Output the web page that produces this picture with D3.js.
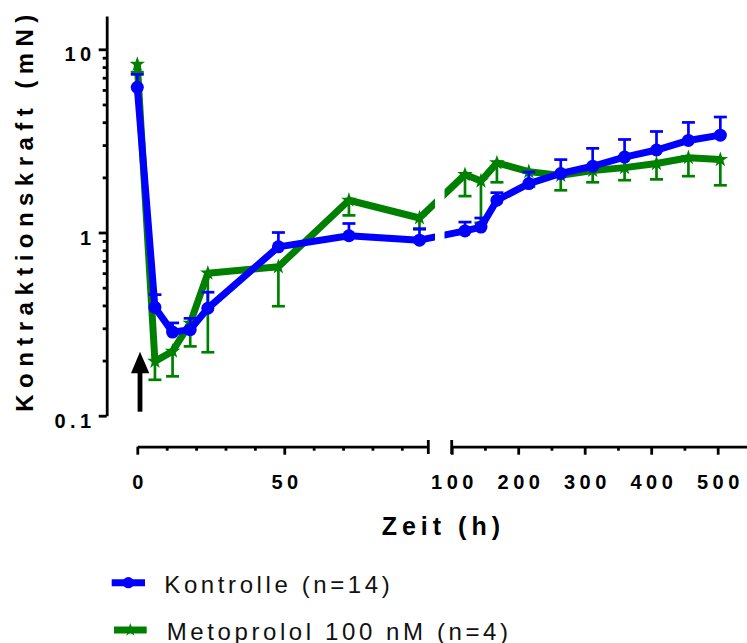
<!DOCTYPE html>
<html>
<head>
<meta charset="utf-8">
<script src="https://cdn.jsdelivr.net/npm/d3@7"></script>
<style>
  html, body { margin: 0; padding: 0; background: #fff; }
  svg { display: block; }
  text { font-family: "Liberation Sans", Arial, sans-serif; }
</style>
</head>
<body>
<svg id="chart" width="747" height="643"></svg>
<script>
// ---------- data ----------
const times = [0, 6, 12, 18, 24, 48, 72, 96, 120, 144, 168, 216, 264, 312, 360, 408, 456, 504];
const kontrolle = [6.2, 0.39, 0.286, 0.295, 0.386, 0.835, 0.96, 0.908, 1.02, 1.07, 1.5, 1.85, 2.1, 2.3, 2.58, 2.82, 3.18, 3.4];
const kontrolleErrTop = [7.3, 0.458, 0.321, 0.34, 0.472, 1.0, 1.12, 1.05, 1.14, 1.2, 1.65, 2.14, 2.5, 2.88, 3.22, 3.56, 3.99, 4.27];
const metoprolol = [8.28, 0.198, 0.225, 0.32, 0.60, 0.65, 1.5, 1.2, 2.07, 1.91, 2.40, 2.15, 2.05, 2.18, 2.26, 2.38, 2.56, 2.5];
const metoprololErrBottom = [7.5, 0.157, 0.164, 0.239, 0.222, 0.396, 1.24, 1.04, 1.58, 1.13, 1.88, 1.78, 1.70, 1.88, 1.93, 1.95, 2.03, 1.81];

const yTicks = [0.1, 1, 10];
const yMinorTicks = [0.2, 0.3, 0.4, 0.5, 0.6, 0.7, 0.8, 0.9, 2, 3, 4, 5, 6, 7, 8, 9];
const xTicks1 = [0, 50];
const xMinor1 = [10, 20, 30, 40, 60, 70, 80, 90];
const xTicks2 = [100, 200, 300, 400, 500];
const xMinor2 = [150, 250, 350, 450];

const seriesNames = ["Kontrolle (n=14)", "Metoprolol 100 nM (n=4)"];
const yLabel = "Kontraktionskraft (mN)";
const xLabel = "Zeit (h)";

// ---------- layout ----------
const svg = d3.select("#chart");
const BLUE = "#0000ff", GREEN = "#008000";
const axisX = 106.7, axisY = 446.7;

const y = d3.scaleLog().domain([0.1, 15.2]).range([415.7, 16]);
const x1 = d3.scaleLinear().domain([0, 99]).range([137.3, 428.3]);
const x2 = d3.scaleLinear().domain([100, 545]).range([451.7, 747.6]);
const xPos = t => (t < 100 ? x1(t) : x2(t));

// ---------- axes ----------
const tickFont = g => g.selectAll("text")
  .attr("font-family", "Liberation Sans, Arial, sans-serif")
  .attr("font-size", 20).attr("font-weight", "bold")
  .attr("fill", "#000").style("letter-spacing", "4.5px");

const styleAxis = g => {
  g.selectAll("path.domain").attr("stroke", "#000").attr("stroke-width", 2.8);
  g.selectAll(".tick line").attr("stroke", "#000").attr("stroke-width", 2.8);
};

// Y axis
const yAxisG = svg.append("g").attr("transform", `translate(${axisX},0)`)
  .call(d3.axisLeft(y).tickValues(yTicks)
    .tickFormat(d => (d < 1 ? "0.1" : String(d)))
    .tickSize(8).tickSizeOuter(0).tickPadding(3));
styleAxis(yAxisG); tickFont(yAxisG);
yAxisG.selectAll("text").attr("dy", 11.5).attr("dx", 0);
svg.append("g").attr("transform", `translate(${axisX},0)`)
  .call(d3.axisLeft(y).tickValues(yMinorTicks).tickFormat("").tickSize(4).tickSizeOuter(0))
  .call(g => g.select(".domain").remove())
  .call(styleAxis);

// X axis seg 1
const xa1 = svg.append("g").attr("transform", `translate(0,${axisY})`)
  .call(d3.axisBottom(x1).tickValues(xTicks1).tickSize(8).tickSizeOuter(0).tickPadding(20.5));
styleAxis(xa1); tickFont(xa1);
xa1.selectAll("text").attr("dx", 2.25);
svg.append("g").attr("transform", `translate(0,${axisY})`)
  .call(d3.axisBottom(x1).tickValues(xMinor1).tickFormat("").tickSize(4).tickSizeOuter(0))
  .call(g => g.select(".domain").remove()).call(styleAxis);

// X axis seg 2
const xa2 = svg.append("g").attr("transform", `translate(0,${axisY})`)
  .call(d3.axisBottom(x2).tickValues(xTicks2).tickSize(8).tickSizeOuter(0).tickPadding(20.5));
styleAxis(xa2); tickFont(xa2);
xa2.selectAll("text").attr("dx", 2.25);
svg.append("g").attr("transform", `translate(0,${axisY})`)
  .call(d3.axisBottom(x2).tickValues(xMinor2).tickFormat("").tickSize(4).tickSizeOuter(0))
  .call(g => g.select(".domain").remove()).call(styleAxis);

// break marks
[x1.range()[1], x2.range()[0]].forEach(bx => {
  svg.append("line").attr("x1", bx).attr("x2", bx)
    .attr("y1", axisY - 6.7).attr("y2", axisY + 7.3)
    .attr("stroke", "#000").attr("stroke-width", 2.8);
});

// axis titles
svg.append("text")
  .attr("transform", "translate(33.3,411.7) rotate(-90)")
  .attr("text-anchor", "start")
  .attr("font-size", 24).attr("font-weight", "bold")
  .attr("textLength", 397).attr("lengthAdjust", "spacing")
  .text(yLabel);

svg.append("text")
  .attr("x", 381.7).attr("y", 535)
  .attr("font-size", 25).attr("font-weight", "bold")
  .attr("textLength", 118.3).attr("lengthAdjust", "spacing")
  .text(xLabel);

// ---------- data marks ----------
const defs = svg.append("defs");
const clip = defs.append("clipPath").attr("id", "gapclip");
clip.append("rect").attr("x", 0).attr("y", 0).attr("width", 435).attr("height", 643);
clip.append("rect").attr("x", 444.5).attr("y", 0).attr("width", 310).attr("height", 643);

const line = d3.line().x(d => xPos(d.t)).y(d => y(d.v));
const kData = times.map((t, i) => ({ t, v: kontrolle[i], e: kontrolleErrTop[i] }));
const mData = times.map((t, i) => ({ t, v: metoprolol[i], e: metoprololErrBottom[i] }));

const capW = 13, errW = 2.7;
function drawErr(g, data, color) {
  const eg = g.append("g");
  eg.selectAll("line.stem").data(data).join("line").attr("class", "stem")
    .attr("x1", d => xPos(d.t)).attr("x2", d => xPos(d.t))
    .attr("y1", d => y(d.v)).attr("y2", d => y(d.e))
    .attr("stroke", color).attr("stroke-width", errW);
  eg.selectAll("line.cap").data(data).join("line").attr("class", "cap")
    .attr("x1", d => xPos(d.t) - capW / 2).attr("x2", d => xPos(d.t) + capW / 2)
    .attr("y1", d => y(d.e)).attr("y2", d => y(d.e))
    .attr("stroke", color).attr("stroke-width", errW);
}

// Metoprolol (green) below
const gm = svg.append("g");
drawErr(gm, mData, GREEN);
gm.append("path").datum(mData).attr("d", line)
  .attr("fill", "none").attr("stroke", GREEN).attr("stroke-width", 7)
  .attr("stroke-linejoin", "round").attr("clip-path", "url(#gapclip)");
const star = d3.symbol().type(d3.symbolStar).size(75);
gm.selectAll("path.star").data(mData).join("path").attr("class", "star")
  .attr("d", star)
  .attr("transform", d => `translate(${xPos(d.t)},${y(d.v)})`)
  .attr("fill", GREEN);

// Kontrolle (blue) on top
const gk = svg.append("g");
drawErr(gk, kData, BLUE);
gk.append("path").datum(kData).attr("d", line)
  .attr("fill", "none").attr("stroke", BLUE).attr("stroke-width", 7)
  .attr("stroke-linejoin", "round").attr("clip-path", "url(#gapclip)");
gk.selectAll("circle").data(kData).join("circle")
  .attr("cx", d => xPos(d.t)).attr("cy", d => y(d.v)).attr("r", 6.5)
  .attr("fill", BLUE);

// arrow annotation
svg.append("rect").attr("x", 137.6).attr("y", 372).attr("width", 4.8).attr("height", 39.7).attr("fill", "#000");
svg.append("path").attr("d", "M131,373.3 L149.3,373.3 L140,351.7 Z").attr("fill", "#000");

// ---------- legend ----------
const legend = svg.append("g");
const legY = [582.7, 630];
const legColors = [BLUE, GREEN];
seriesNames.forEach((name, i) => {
  const lx0 = i === 0 ? 111.7 : 114, lx1 = i === 0 ? 145 : 146.7;
  legend.append("line").attr("x1", lx0).attr("x2", lx1)
    .attr("y1", legY[i]).attr("y2", legY[i])
    .attr("stroke", legColors[i]).attr("stroke-width", 7);
  if (i === 0) {
    legend.append("circle").attr("cx", (lx0 + lx1) / 2).attr("cy", legY[i]).attr("r", 5.6).attr("fill", BLUE);
  } else {
    legend.append("path").attr("d", d3.symbol().type(d3.symbolStar).size(55))
      .attr("transform", `translate(${(lx0 + lx1) / 2},${legY[i]})`).attr("fill", GREEN);
  }
  legend.append("text")
    .attr("x", i === 0 ? 164.3 : 166.7).attr("y", i === 0 ? 593.3 : 640)
    .attr("font-size", 24).style("letter-spacing", "3.6px")
    .attr("fill", "#111")
    .text(name);
});
</script>
</body>
</html>
